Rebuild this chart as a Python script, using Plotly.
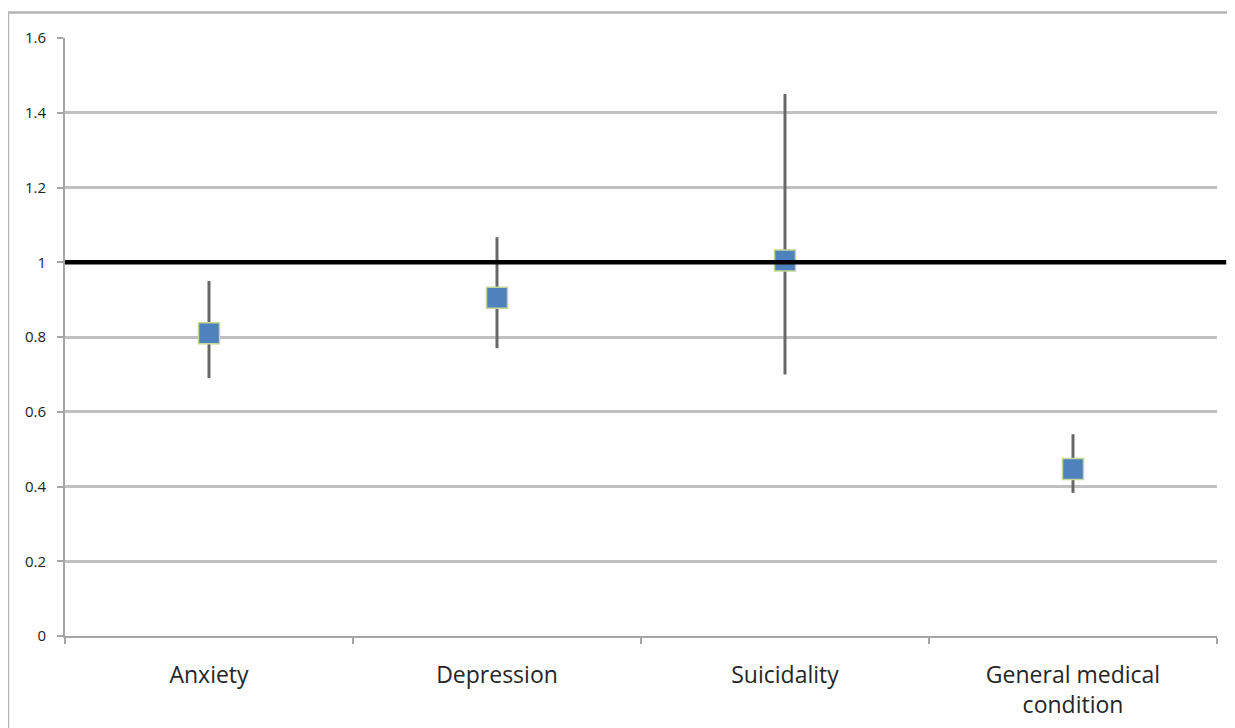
import plotly.graph_objects as go

categories = ["Anxiety", "Depression", "Suicidality", "General medical<br>condition"]
estimates = [0.81, 0.905, 1.005, 0.447]
upper = [0.95, 1.067, 1.45, 0.54]
lower = [0.69, 0.77, 0.70, 0.383]
reference_value = 1.0
y_ticks = [0, 0.2, 0.4, 0.6, 0.8, 1, 1.2, 1.4, 1.6]
y_ticktext = ["0", "0.2", "0.4", "0.6", "0.8", "1", "1.2", "1.4", "1.6"]

err_plus = [u - e for u, e in zip(upper, estimates)]
err_minus = [e - l for e, l in zip(estimates, lower)]

fig = go.Figure()
fig.add_trace(go.Scatter(
    x=categories, y=estimates, mode="markers",
    marker=dict(symbol="square", size=21, color="#4f81bd",
                line=dict(color="#c3d69b", width=1.5)),
    error_y=dict(type="data", array=err_plus, arrayminus=err_minus,
                 color="#686868", thickness=3, width=0),
    showlegend=False,
))

fig.add_shape(type="line", xref="paper", yref="y", x0=0, x1=1.008,
              y0=reference_value, y1=reference_value,
              line=dict(color="black", width=4.5))
fig.add_shape(type="rect", xref="paper", yref="paper",
              x0=-0.0495, x1=1.1, y0=-0.3, y1=1.0425,
              line=dict(color="#b3b3b3", width=2.5), layer="below")

# page body has an 8px margin, so margins are shifted to compensate
fig.update_layout(
    width=1235, height=728,
    margin=dict(l=57, r=26, t=30, b=100),
    paper_bgcolor="white", plot_bgcolor="white",
    font=dict(family="Open Sans, Lato, sans-serif", color="#262626"),
)
fig.update_xaxes(
    type="category", tickson="boundaries", ticks="outside", ticklen=6,
    tickcolor="#a6a6a6", tickwidth=2,
    showline=True, linecolor="#a6a6a6", linewidth=2,
    showgrid=False, tickfont=dict(size=23), ticklabelstandoff=17,
    range=[-0.5, 3.5],
)
fig.update_yaxes(
    range=[0, 1.6], tickvals=y_ticks, ticktext=y_ticktext,
    ticks="outside", ticklen=6, tickcolor="#a6a6a6", tickwidth=2,
    showline=True, linecolor="#a6a6a6", linewidth=2,
    showgrid=True, gridcolor="#c0c0c0", gridwidth=2.5,
    zeroline=False, tickfont=dict(size=15, color="#222"),
    ticklabelstandoff=8,
)

fig.write_html("out.html")
